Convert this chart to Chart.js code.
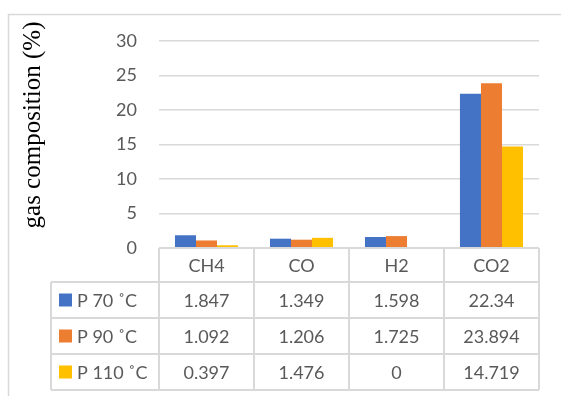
<!DOCTYPE html>
<html>
<head>
<meta charset="utf-8">
<script src="https://cdn.jsdelivr.net/npm/chart.js@4/dist/chart.umd.min.js"></script>
<style>
  html, body { margin: 0; padding: 0; background: #ffffff; }
  canvas { display: block; }
</style>
</head>
<body>
<canvas id="gas" width="561" height="396"></canvas>
<script>
// Gas composition by component at three temperatures
const categories = ['CH4', 'CO', 'H2', 'CO2'];
const seriesNames = ['P 70 ˚C', 'P 90 ˚C', 'P 110 ˚C'];
const p70 = [1.847, 1.349, 1.598, 22.34];
const p90 = [1.092, 1.206, 1.725, 23.894];
const p110 = [0.397, 1.476, 0, 14.719];
const yTicks = [0, 5, 10, 15, 20, 25, 30];
const yTitle = 'gas composition (%)';

const seriesValues = [p70, p90, p110];
const seriesColors = ['#4472C4', '#ED7D31', '#FFC000'];
const lineColor = '#d9d9d9';
const textColor = '#595959';
const labelFont = '18px Lato, "Open Sans", sans-serif';

// Frame, axis title and the data table underneath the plot
const tablePlugin = {
  id: 'dataTable',
  beforeDraw(chart) {
    const ctx = chart.ctx;
    ctx.save();
    ctx.fillStyle = '#ffffff';
    ctx.fillRect(0, 0, chart.width, chart.height);
    ctx.strokeStyle = lineColor;
    ctx.lineWidth = 1.5;
    ctx.beginPath();
    ctx.moveTo(8.5, chart.height);
    ctx.lineTo(8.5, 14.5);
    ctx.lineTo(chart.width, 14.5);
    ctx.stroke();
    ctx.restore();
  },
  afterDraw(chart) {
    const ctx = chart.ctx;
    const x = chart.scales.x;
    const y = chart.scales.y;
    const left = x.left, right = x.right;
    const colW = (right - left) / categories.length;
    const top = y.getPixelForValue(0);
    const headH = 34, rowH = 36;
    const legendLeft = 51;
    const bottom = top + headH + rowH * seriesNames.length;

    ctx.save();
    // Axis title
    ctx.fillStyle = '#000000';
    ctx.font = '25px "Liberation Serif", "Times New Roman", serif';
    ctx.textAlign = 'center';
    ctx.textBaseline = 'middle';
    ctx.translate(33, 125);
    ctx.rotate(-Math.PI / 2);
    ctx.fillText(yTitle, 0, 0);
    ctx.restore();

    ctx.save();
    ctx.strokeStyle = lineColor;
    ctx.lineWidth = 2;
    ctx.beginPath();
    // Horizontal rules
    ctx.moveTo(left, top); ctx.lineTo(right, top);
    for (let r = 0; r <= seriesNames.length; r++) {
      const yy = top + headH + r * rowH;
      ctx.moveTo(legendLeft, yy); ctx.lineTo(right, yy);
    }
    // Vertical rules
    ctx.moveTo(legendLeft, top + headH); ctx.lineTo(legendLeft, bottom);
    for (let c = 0; c <= categories.length; c++) {
      const xx = left + c * colW;
      ctx.moveTo(xx, top); ctx.lineTo(xx, bottom);
    }
    ctx.stroke();

    ctx.font = labelFont;
    ctx.fillStyle = textColor;
    ctx.textBaseline = 'middle';
    ctx.textAlign = 'center';
    categories.forEach((cat, c) => {
      ctx.fillText(cat, left + (c + 0.5) * colW, top + headH / 2 + 1);
    });
    seriesNames.forEach((name, r) => {
      const cy = top + headH + (r + 0.5) * rowH + 1;
      ctx.fillStyle = seriesColors[r];
      ctx.fillRect(59, cy - 7.5, 13, 13);
      ctx.fillStyle = textColor;
      ctx.textAlign = 'left';
      ctx.fillText(name, 77, cy);
      ctx.textAlign = 'center';
      seriesValues[r].forEach((v, c) => {
        ctx.fillText(String(v), left + (c + 0.5) * colW, cy);
      });
    });
    ctx.restore();
  }
};

new Chart(document.getElementById('gas'), {
  type: 'bar',
  data: {
    labels: categories,
    datasets: seriesNames.map((name, i) => ({
      label: name,
      data: seriesValues[i],
      backgroundColor: seriesColors[i],
      borderWidth: 0,
      categoryPercentage: 0.664,
      barPercentage: 1
    }))
  },
  options: {
    responsive: false,
    animation: false,
    devicePixelRatio: 1,
    layout: { padding: { left: 0, top: 41, right: 22, bottom: 148 } },
    plugins: { legend: { display: false }, tooltip: { enabled: false } },
    scales: {
      x: { display: false },
      y: {
        min: 0,
        max: 30,
        afterFit(scale) { scale.width = 159; },
        afterBuildTicks(scale) { scale.ticks = yTicks.map(v => ({ value: v })); },
        border: { display: false },
        grid: { color: lineColor, lineWidth: 1.5, drawTicks: false },
        ticks: {
          padding: 22,
          color: textColor,
          font: { family: 'Lato, "Open Sans", sans-serif', size: 18 }
        }
      }
    }
  },
  plugins: [tablePlugin]
});
</script>
</body>
</html>
